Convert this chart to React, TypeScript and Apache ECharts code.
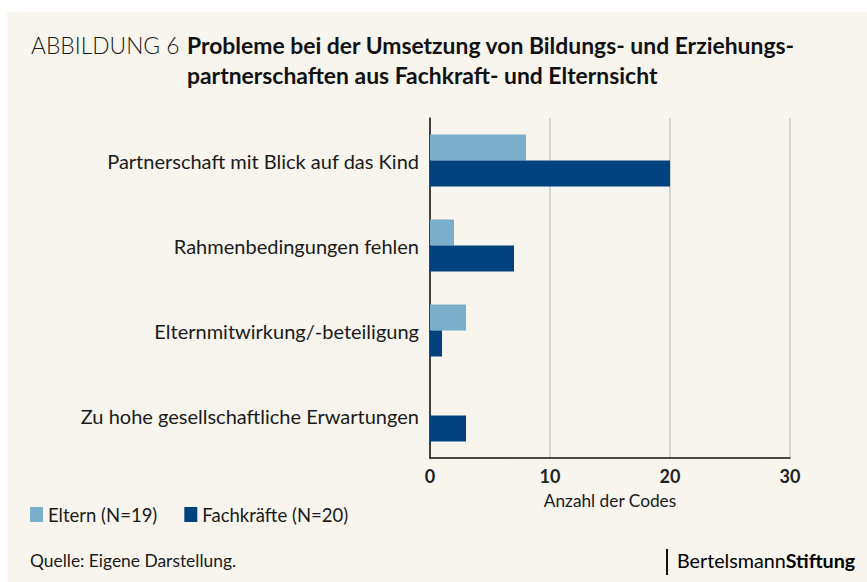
import React, { useEffect, useRef } from "react";
import * as echarts from "echarts";

const categories = [
  "Partnerschaft mit Blick auf das Kind",
  "Rahmenbedingungen fehlen",
  "Elternmitwirkung/-beteiligung",
  "Zu hohe gesellschaftliche Erwartungen",
];
const elternValues = [8, 2, 3, 0];
const fachkraefteValues = [20, 7, 1, 3];
const seriesNames = ["Eltern (N=19)", "Fachkräfte (N=20)"];
const xTicks = { min: 0, max: 30, interval: 10 };

const FONT = "Lato, 'Noto Sans', sans-serif";
const BG = "#f7f5ee";
const LIGHT = "#79afcb";
const DARK = "#00427e";

export default function App() {
  const ref = useRef<HTMLDivElement>(null);
  useEffect(() => {
    if (!ref.current) return;
    const chart = echarts.init(ref.current, null, { renderer: "svg" });
    chart.setOption({
      animation: false,
      backgroundColor: "#ffffff",
      textStyle: { fontFamily: FONT },
      grid: { left: 430, right: 77, top: 118, height: 340, containLabel: false },
      legend: {
        left: 30,
        top: 505,
        padding: 0,
        itemWidth: 13,
        itemHeight: 15,
        itemGap: 27,
        icon: "rect",
        textStyle: { fontFamily: FONT, fontSize: 18.5, color: "#1a1a1a" },
        data: seriesNames,
      },
      xAxis: {
        type: "value",
        min: xTicks.min,
        max: xTicks.max,
        interval: xTicks.interval,
        name: "Anzahl der Codes",
        nameLocation: "middle",
        nameGap: 34,
        nameTextStyle: { fontFamily: FONT, fontSize: 17.3, color: "#1a1a1a" },
        axisLine: { show: true, lineStyle: { color: "#111", width: 1.5 } },
        axisTick: { show: false },
        axisLabel: { fontFamily: FONT, fontSize: 18, fontWeight: "bold", color: "#222", margin: 9 },
        splitLine: { show: true, lineStyle: { color: "#c9c9c9", width: 1.5 } },
      },
      yAxis: {
        type: "category",
        data: categories,
        inverse: true,
        axisLine: { show: true, lineStyle: { color: "#111", width: 1.5 } },
        axisTick: { show: false },
        axisLabel: { fontFamily: FONT, fontSize: 20, color: "#1a1a1a", margin: 11 },
      },
      series: [
        {
          name: seriesNames[0],
          type: "bar",
          data: elternValues,
          barWidth: 26,
          barGap: "0%",
          itemStyle: { color: LIGHT },
        },
        {
          name: seriesNames[1],
          type: "bar",
          data: fachkraefteValues,
          barWidth: 26,
          barGap: "0%",
          itemStyle: { color: DARK },
        },
      ],
      graphic: [
        {
          type: "rect",
          z: -100,
          silent: true,
          shape: { x: 7, y: 12, width: 860, height: 570 },
          style: { fill: BG },
        },
        {
          type: "text",
          left: 31,
          top: 33,
          style: { text: "ABBILDUNG 6", fontFamily: FONT, fontWeight: 300, fontSize: 22.8, fill: "#1a1a1a" },
        },
        {
          type: "text",
          left: 187,
          top: 33,
          style: {
            text: "Probleme bei der Umsetzung von Bildungs- und Erziehungs-",
            fontFamily: FONT,
            fontWeight: "bold",
            fontSize: 22.9,
            fill: "#111",
          },
        },
        {
          type: "text",
          left: 187,
          top: 63,
          style: {
            text: "partnerschaften aus Fachkraft- und Elternsicht",
            fontFamily: FONT,
            fontWeight: "bold",
            fontSize: 22.9,
            fill: "#111",
          },
        },
        {
          type: "text",
          left: 30,
          top: 552,
          style: { text: "Quelle: Eigene Darstellung.", fontFamily: FONT, fontSize: 17.4, fill: "#1a1a1a" },
        },
        {
          type: "rect",
          shape: { x: 666, y: 549, width: 2, height: 26 },
          style: { fill: "#111" },
        },
        {
          type: "text",
          left: 677,
          top: 550,
          style: {
            text: "{a|Bertelsmann}{b|Stiftung}",
            rich: {
              a: { fontFamily: FONT, fontSize: 19.7, color: "#1a1a1a" },
              b: { fontFamily: FONT, fontSize: 19.7, fontWeight: "bold", color: "#1a1a1a" },
            },
          },
        },
      ],
    });
    return () => chart.dispose();
  }, []);
  return (
    <div style={{ position: "absolute", left: 0, top: 0, width: 867, height: 582, background: "#fff" }}>
      <div ref={ref} style={{ width: 867, height: 582 }} />
    </div>
  );
}
